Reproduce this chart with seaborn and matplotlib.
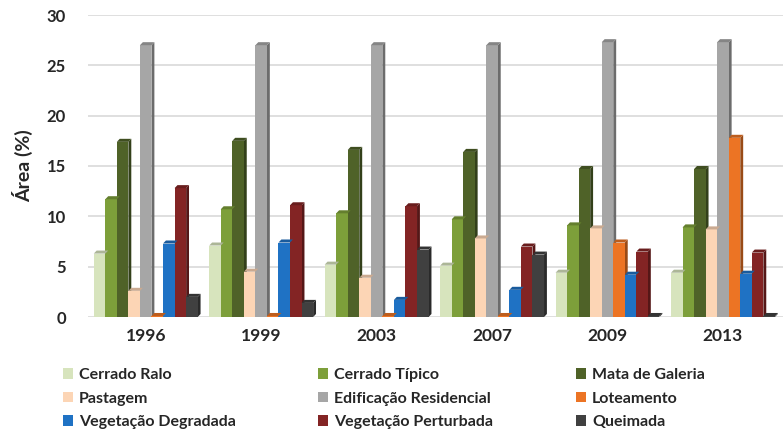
import numpy as np
import pandas as pd
import seaborn as sns
import matplotlib.pyplot as plt
import matplotlib.colors as mcolors
from matplotlib.patches import Polygon

anos = ["1996", "1999", "2003", "2007", "2009", "2013"]

classes = [
    "Cerrado Ralo", "Cerrado Típico", "Mata de Galeria",
    "Pastagem", "Edificação Residencial", "Loteamento",
    "Vegetação Degradada", "Vegetação Perturbada", "Queimada",
]

cerrado_ralo = [6.3, 7.1, 5.2, 5.1, 4.4, 4.4]
cerrado_tipico = [11.7, 10.7, 10.3, 9.7, 9.1, 8.9]
mata_galeria = [17.4, 17.5, 16.6, 16.4, 14.7, 14.7]
pastagem = [2.6, 4.5, 3.9, 7.8, 8.8, 8.7]
edificacao = [27.0, 27.0, 27.0, 27.0, 27.3, 27.3]
loteamento = [0.1, 0.1, 0.1, 0.1, 7.4, 17.8]
veg_degradada = [7.3, 7.4, 1.7, 2.7, 4.2, 4.3]
veg_perturbada = [12.8, 11.1, 11.0, 7.0, 6.5, 6.4]
queimada = [2.0, 1.4, 6.7, 6.2, 0.1, 0.1]

series = [cerrado_ralo, cerrado_tipico, mata_galeria, pastagem, edificacao,
          loteamento, veg_degradada, veg_perturbada, queimada]

cores = ["#d7e4bd", "#7d9f3a", "#4f6228", "#fcd5b5", "#a6a6a6",
         "#ec7424", "#1f72c4", "#832424", "#404040"]

df = pd.DataFrame(
    [(ano, classe, v) for classe, vals in zip(classes, series)
     for ano, v in zip(anos, vals)],
    columns=["Ano", "Classe", "Area"],
)

sns.set_theme(style="white")
plt.rcParams["font.family"] = ["Lato", "DejaVu Sans"]

fig = plt.figure(figsize=(7.83, 4.33), dpi=100)
ax = fig.add_axes([88 / 783, 116 / 433, (783 - 88) / 783, (317 - 15) / 433])

sns.barplot(data=df, x="Ano", y="Area", hue="Classe", hue_order=classes,
            order=anos, palette=cores, width=0.9, gap=0, saturation=1,
            linewidth=0, ax=ax, zorder=3)

handles, labels = ax.get_legend_handles_labels()
ax.get_legend().remove()

# darker side faces give each bar a little depth
dx, dy = 0.025, 0.3
for patch in ax.patches:
    h = patch.get_height()
    if h <= 0:
        continue
    x0 = patch.get_x()
    x1 = x0 + patch.get_width()
    rgb = np.array(mcolors.to_rgb(patch.get_facecolor()))
    side = Polygon([(x1, 0), (x1 + dx, dy), (x1 + dx, h + dy), (x1, h)],
                   closed=True, facecolor=rgb * 0.65, edgecolor="none",
                   zorder=2.5)
    top = Polygon([(x0, h), (x0 + dx, h + dy), (x1 + dx, h + dy), (x1, h)],
                  closed=True, facecolor=np.clip(rgb * 0.8, 0, 1),
                  edgecolor="none", zorder=3.5)
    ax.add_patch(side)
    ax.add_patch(top)

ax.set_ylim(0, 30)
ax.set_xlim(-0.5, 5.52)
ax.set_yticks([0, 5, 10, 15, 20, 25, 30])
ax.yaxis.grid(True, color="#d9d9d9", linewidth=1.2, zorder=0)
ax.set_axisbelow(True)
for s in ax.spines.values():
    s.set_visible(False)
ax.tick_params(axis="y", length=0, labelsize=12, pad=16)
ax.tick_params(axis="x", length=0, labelsize=12.5, pad=8)
for lab in ax.get_xticklabels() + ax.get_yticklabels():
    lab.set_fontweight("bold")
ax.set_xlabel("")
ax.set_ylabel("Área (%)", fontsize=14, fontweight="bold", labelpad=10)

# three legend columns, filled row by row
col_x = [63 / 783, 318 / 783, 576 / 783]
for c in range(3):
    idx = [c, c + 3, c + 6]
    fig.legend([handles[i] for i in idx], [labels[i] for i in idx],
               loc="upper left", bbox_to_anchor=(col_x[c], 65 / 433),
               frameon=False, borderpad=0, borderaxespad=0,
               handlelength=0.65, handleheight=0.65,
               handletextpad=0.35, labelspacing=0.6,
               prop={"size": 11.5, "weight": "bold"})

fig.savefig("out.png", dpi=100)
